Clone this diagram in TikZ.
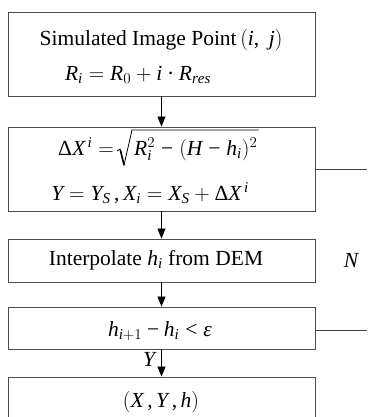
\RequirePackage{fix-cm}
\documentclass[tikz,border=0pt]{standalone}
\usepackage{fontspec}
\setmainfont{Liberation Serif}
\usetikzlibrary{arrows.meta}
\DeclareSymbolFont{tuit}{TU}{\rmdefault}{m}{it}
\DeclareSymbolFont{tuup}{TU}{\rmdefault}{m}{n}
\makeatletter
\@tfor\x:=abcdefghijklmnopqrstuvwxyzABCDEFGHIJKLMNOPQRSTUVWXYZ\do{%
  \Umathcode\expandafter`\x=7 \symtuit \expandafter`\x\relax}
\@tfor\x:=0123456789()\do{%
  \Umathcode\expandafter`\x=0 \symtuup \expandafter`\x\relax}
\makeatother
\Umathcode`+=2 \symtuup `+\relax
\Umathcode`-=2 \symtuup "2212\relax
\Umathcode`==3 \symtuup `=\relax
\Umathcode`<=3 \symtuup `<\relax
\Umathcode`,=6 \symtuup `,\relax
\Umathchardef\mydelta=0 \symtuup "0394\relax
\Umathchardef\myeps=0 \symtuit "03B5\relax
\Umathchardef\mycdot=2 \symtuup "00B7\relax
\begin{document}
\begin{tikzpicture}[x=1pt,y=-1pt,
  box/.style={draw=black!70,line width=0.9pt,minimum width=307pt,inner sep=0pt},
  txt/.style={inner sep=0pt,font=\fontsize{21.5}{24}\selectfont},
  arr/.style={-{Triangle[length=10pt,width=8pt]},line width=0.8pt},
  fb/.style={draw=black!75,line width=0.9pt},
  rad/.style={draw=black,line width=0.8pt,line join=miter}]
\useasboundingbox (0,0) rectangle (367,417);
\node[box,minimum height=84pt] (b1) at (161.5,54) {};
\node[box,minimum height=84pt] (b2) at (161.5,169) {};
\node[box,minimum height=43pt] (b3) at (161.5,260.5) {};
\node[box,minimum height=42pt] (b4) at (161.5,328) {};
\node[box,minimum height=43pt] (b5) at (161.5,398.5) {};
\node[txt] (t1a) at (161,40) {Simulated Image Point$\,(i,\;j)$};
\node[txt] (t1b) at (138,75) {$R_i = R_0 + i\mycdot R_{res}$};
\node[txt,anchor=base west] (t2a) at (58,155) {$\mydelta X^{\,i} =$};
\node[txt,anchor=base west] (t2r) at (134,155) {$R_i^2\mskip1mu-\mskip1mu(H\mskip1mu-\mskip1mu h_i)^2$};
\draw[rad] ([shift={(-17,-4)}]t2r.base west) -- ([shift={(-14,-6)}]t2r.base west)
  -- ([shift={(-10,10)}]t2r.base west) -- ([shift={(-2,-25)}]t2r.base west)
  -- ([shift={(1,-25)}]t2r.base east);
\draw[black,line width=1.6pt] ([shift={(-13.6,-5)}]t2r.base west) -- ([shift={(-10,10)}]t2r.base west);
\node[txt] (t2b) at (150,193) {$Y=Y_S\,,X_i = X_S+\mydelta X^{\,i}$};
\node[txt] (t3) at (156,260) {Interpolate $h_i$ from DEM};
\node[txt] (t4) at (160,331) {$h_{i+1}-h_i<\myeps$};
\node[txt] (t5) at (161,402) {$(X\,,Y\,,h)$};
\node[txt] (ly) at (149,359) {$Y$};
\node[txt] (ln) at (351,260) {$N$};
\coordinate (e2) at (367,169);
\coordinate (e4) at (367,330);
\draw[arr] (b1.south) -- (b2.north);
\draw[arr] (b2.south) -- (b3.north);
\draw[arr] (b3.south) -- (b4.north);
\draw[arr] (b4.south) -- (b5.north);
\draw[fb] (b2.east) -- (e2);
\draw[fb] (b4.east |- e4) -- (e4);
\end{tikzpicture}
\end{document}
